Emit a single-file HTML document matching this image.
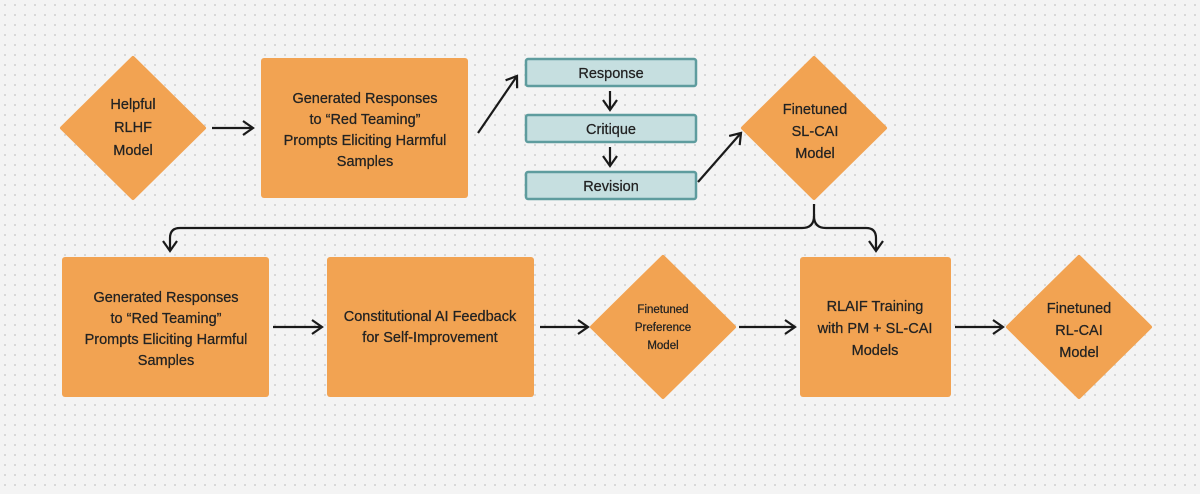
<!DOCTYPE html>
<html><head><style>
html,body{margin:0;padding:0;width:1200px;height:494px;overflow:hidden;background:#f4f4f4}
svg{display:block}
text{font-family:"Liberation Sans",Arial,sans-serif;fill:#222;text-anchor:middle;stroke:#222;stroke-width:0.25}
</style></head><body>
<svg width="1200" height="494" viewBox="0 0 1200 494" xmlns="http://www.w3.org/2000/svg">
<defs>
<pattern id="d" width="10" height="10" patternUnits="userSpaceOnUse"><circle cx="5" cy="5" r="0.9" fill="#c4c4c4"/></pattern>
<marker id="a" viewBox="0 0 16 16" refX="14" refY="8" markerWidth="16" markerHeight="16" markerUnits="userSpaceOnUse" orient="auto"><path d="M4 1 L14 8 L4 15" fill="none" stroke="#1a1a1a" stroke-width="2.2"/></marker>
</defs>
<rect width="1200" height="494" fill="#f4f4f4"/>
<rect width="1200" height="494" fill="url(#d)"/>
<g fill="#f2a352">
<path d="M133 58 L204 128 L133 198 L62 128 Z" stroke="#f2a352" stroke-width="4" stroke-linejoin="round"/>
<rect x="261" y="58" width="207" height="140" rx="3"/>
<path d="M814 58 L885 128 L814 198 L743 128 Z" stroke="#f2a352" stroke-width="4" stroke-linejoin="round"/>
<rect x="62" y="257" width="207" height="140" rx="3"/>
<rect x="327" y="257" width="207" height="140" rx="3"/>
<path d="M663 257 L734 327 L663 397 L592 327 Z" stroke="#f2a352" stroke-width="4" stroke-linejoin="round"/>
<rect x="800" y="257" width="151" height="140" rx="3"/>
<path d="M1079 257 L1150 327 L1079 397 L1008 327 Z" stroke="#f2a352" stroke-width="4" stroke-linejoin="round"/>
</g>
<g fill="#c6dfe0" stroke="#5e9c9e" stroke-width="2.5">
<rect x="526" y="59" width="170" height="27" rx="2"/>
<rect x="526" y="115" width="170" height="27" rx="2"/>
<rect x="526" y="172" width="170" height="27" rx="2"/>
</g>
<g stroke="#1a1a1a" stroke-width="2.2" fill="none" marker-end="url(#a)">
<line x1="212" y1="128" x2="253" y2="128"/>
<line x1="478" y1="133" x2="517" y2="76"/>
<line x1="610" y1="91" x2="610" y2="110"/>
<line x1="610" y1="147" x2="610" y2="166"/>
<line x1="698" y1="182" x2="741" y2="133"/>
<line x1="273" y1="327" x2="322" y2="327"/>
<line x1="540" y1="327" x2="588" y2="327"/>
<line x1="739" y1="327" x2="795" y2="327"/>
<line x1="955" y1="327" x2="1003" y2="327"/>
<path d="M814 204 L814 216 Q814 228 802 228 L180 228 Q170 228 170 238 L170 251"/>
<path d="M814 216 Q814 228 826 228 L866 228 Q876 228 876 238 L876 251" marker-end="url(#a)"/>
</g>
<g font-size="14.5">
<text x="133" y="109">Helpful</text><text x="133" y="132">RLHF</text><text x="133" y="155">Model</text>
<text x="365" y="103">Generated Responses</text><text x="365" y="124">to “Red Teaming”</text><text x="365" y="145">Prompts Eliciting Harmful</text><text x="365" y="166">Samples</text>
<text x="611" y="78">Response</text><text x="611" y="134">Critique</text><text x="611" y="191">Revision</text>
<text x="815" y="114">Finetuned</text><text x="815" y="136">SL-CAI</text><text x="815" y="158">Model</text>
<text x="166" y="302">Generated Responses</text><text x="166" y="323">to “Red Teaming”</text><text x="166" y="344">Prompts Eliciting Harmful</text><text x="166" y="365">Samples</text>
<text x="430" y="321">Constitutional AI Feedback</text><text x="430" y="342">for Self-Improvement</text>
<text x="1079" y="313">Finetuned</text><text x="1079" y="335">RL-CAI</text><text x="1079" y="357">Model</text>
</g>
<g font-size="11.5"><text x="663" y="313">Finetuned</text><text x="663" y="331">Preference</text><text x="663" y="349">Model</text></g>
<g font-size="14.5"><text x="875" y="311">RLAIF Training</text><text x="875" y="333">with PM + SL-CAI</text><text x="875" y="355">Models</text></g>
</svg>
</body></html>
